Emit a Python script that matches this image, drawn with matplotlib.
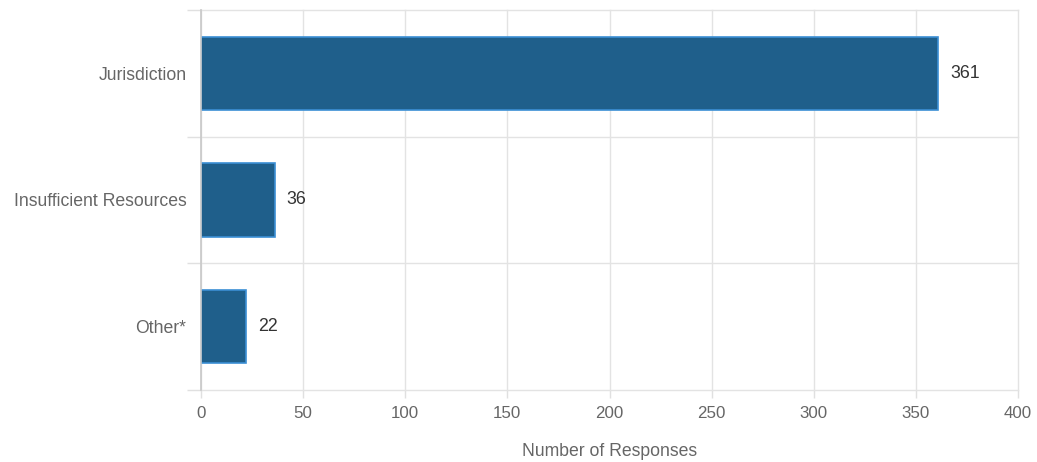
import matplotlib
matplotlib.use("Agg")
import matplotlib.pyplot as plt
import numpy as np

categories = ["Jurisdiction", "Insufficient Resources", "Other*"]
values = [361, 36, 22]
xticks = [0, 50, 100, 150, 200, 250, 300, 350, 400]
xlabel = "Number of Responses"

plt.rcParams['font.family'] = ['Liberation Sans', 'DejaVu Sans']

fig = plt.figure(figsize=(10.37, 4.62), dpi=100)
ax = fig.add_axes([201/1037, 1-390/462, (1018-201)/1037, (390-10)/462])

y = np.arange(len(categories))
ax.barh(y, values, height=0.58, color='#1f5f8b', edgecolor='#3b8fd4', linewidth=1.2, zorder=3)
for yi, v in zip(y, values):
    ax.text(v + 6, yi, str(v), va='center', ha='left', fontsize=12.8, color='#333333')

ax.set_xlim(0, 400)
ax.set_ylim(len(categories) - 0.5, -0.5)
ax.set_xticks(xticks)
ax.set_xticklabels([str(t) for t in xticks], fontsize=12.2, color='#666666')
ax.set_yticks(y)
ax.set_yticklabels(categories, fontsize=12.7, color='#666666')
ax.set_yticks(np.arange(-0.5, len(categories), 1.0), minor=True)
ax.tick_params(axis='y', which='major', length=0, pad=10.5)
ax.tick_params(axis='y', which='minor', length=10, color='#e0e0e0', width=1)
ax.tick_params(axis='x', which='major', length=6, color='#e0e0e0', width=1, pad=5.5)
ax.grid(axis='x', which='major', color='#e3e3e3', linewidth=1, zorder=0)
ax.grid(axis='y', which='minor', color='#e3e3e3', linewidth=1, zorder=0)
for t in ax.xaxis.get_major_ticks() + ax.yaxis.get_minor_ticks():
    t.gridline.set_clip_on(False)
for s in ['top', 'right', 'bottom']:
    ax.spines[s].set_visible(False)
ax.spines['left'].set_color('#c8c8c8')
ax.spines['left'].set_linewidth(1.2)
ax.spines['left'].set_zorder(4)
ax.set_xlabel(xlabel, fontsize=12.7, color='#666666', labelpad=16)

fig.savefig('out.png', dpi=100)
